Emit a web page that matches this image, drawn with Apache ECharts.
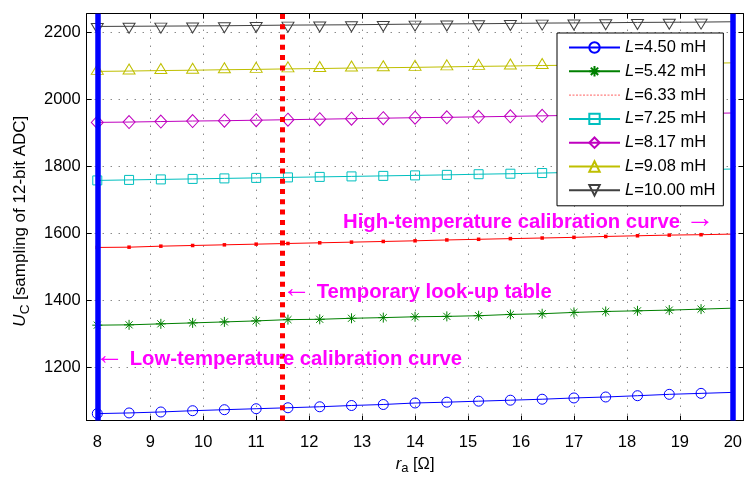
<!DOCTYPE html>
<html>
<head>
<meta charset="utf-8">
<script src="https://cdn.jsdelivr.net/npm/echarts@6/dist/echarts.min.js"></script>
<style>
  html, body { margin: 0; padding: 0; background: #ffffff; }
  #chart { width: 745px; height: 480px; }
</style>
</head>
<body>
<div id="chart"></div>
<script>
// Armature resistance r_a [Ω] at which U_C was sampled
const ra = [8, 8.6, 9.2, 9.8, 10.4, 11.0, 11.6, 12.2, 12.8, 13.4, 14.0, 14.6, 15.2, 15.8, 16.4, 17.0, 17.6, 18.2, 18.8, 19.4, 20];

// Inductance of each curve [mH]
const inductance = ['4.50', '5.42', '6.33', '7.25', '8.17', '9.08', '10.00'];

// U_C samples (12-bit ADC counts), one array per inductance
const uc450 = [1062.8, 1064.8, 1067.7, 1071.5, 1074.5, 1077.4, 1080.3, 1083.2, 1087.0, 1090.0, 1094.5, 1096.9, 1099.9, 1102.8, 1105.7, 1109.5, 1112.4, 1116.2, 1120.3, 1123.2, 1126.1];
const uc542 = [1326.5, 1327.5, 1330.4, 1333.3, 1336.2, 1339.2, 1343.0, 1344.0, 1347.0, 1349.0, 1351.5, 1352.7, 1354.7, 1358.5, 1360.6, 1364.5, 1367.3, 1369.3, 1371.4, 1374.3, 1377.2];
const uc633 = [1558.2, 1559.0, 1562.0, 1564.0, 1566.0, 1568.0, 1570.0, 1572.0, 1574.0, 1576.0, 1578.0, 1580.5, 1582.5, 1584.5, 1586.3, 1588.3, 1591.0, 1593.0, 1595.0, 1596.2, 1598.0];
const uc725 = [1758.0, 1759.5, 1761.0, 1762.5, 1764.0, 1765.5, 1767.0, 1768.5, 1770.0, 1771.5, 1773.0, 1774.5, 1776.5, 1778.0, 1780.0, 1782.0, 1784.0, 1786.0, 1788.0, 1790.0, 1792.0];
const uc817 = [1931.0, 1932.0, 1933.5, 1935.0, 1936.0, 1937.5, 1939.0, 1940.5, 1942.0, 1943.5, 1945.0, 1946.0, 1947.5, 1949.0, 1950.5, 1952.0, 1953.5, 1955.0, 1956.0, 1957.5, 1959.0];
const uc908 = [2083.0, 2084.0, 2085.5, 2086.5, 2088.0, 2089.0, 2090.5, 2091.5, 2093.0, 2094.0, 2095.0, 2096.5, 2098.0, 2099.0, 2100.5, 2101.5, 2103.0, 2104.5, 2106.0, 2107.0, 2108.5];
const uc1000 = [2217.0, 2217.5, 2218.0, 2218.5, 2219.0, 2220.0, 2221.0, 2221.5, 2222.0, 2223.0, 2224.0, 2224.5, 2225.0, 2226.0, 2227.0, 2227.5, 2228.0, 2229.0, 2229.5, 2230.0, 2231.0];

// Axis ticks
const xTicks = [8, 9, 10, 11, 12, 13, 14, 15, 16, 17, 18, 19, 20];
const yTicks = [1200, 1400, 1600, 1800, 2000, 2200];

// Calibration / look-up positions on the r_a axis
const lowTempRa = 8;
const highTempRa = 20;
const lookupRa = 11.5;

const FONT = '"Liberation Sans", Arial, Helvetica, sans-serif';
const asterisk = 'path://M0,-10L0,10M-10,0L10,0M-7.07,-7.07L7.07,7.07M-7.07,7.07L7.07,-7.07';

// Per-curve appearance
const styles = [
  { color: '#0000ff', symbol: 'circle',   size: 10,       offset: [0, 0] },
  { color: '#008000', symbol: asterisk,   size: 10,       offset: [0, 0] },
  { color: '#ff0000', symbol: 'rect',     size: 3.5,      offset: [0, 0], filled: true },
  { color: '#00bfbf', symbol: 'rect',     size: 9,        offset: [0, 0] },
  { color: '#bf00bf', symbol: 'diamond',  size: [12, 13], offset: [0, 0] },
  { color: '#bfbf00', symbol: 'triangle', size: [12, 10], offset: [0, -2] },
  { color: '#404040', symbol: 'triangle', size: [12, 10], offset: [0, 2], rotate: 180 }
];
const values = [uc450, uc542, uc633, uc725, uc817, uc908, uc1000];

function toPoints(vals) {
  // the final point (r_a = 20) only extends the line, without a marker
  return ra.map((x, i) => i === ra.length - 1
    ? { value: [x, vals[i]], symbol: 'none' }
    : [x, vals[i]]);
}

const series = values.map((vals, k) => {
  const s = styles[k];
  return {
    name: 'L=' + inductance[k] + ' mH',
    type: 'line',
    data: toPoints(vals),
    symbol: s.symbol,
    symbolSize: s.size,
    symbolOffset: s.offset,
    symbolRotate: s.rotate || 0,
    symbolKeepAspect: true,
    showAllSymbol: true,
    lineStyle: { color: s.color, width: 1 },
    itemStyle: s.filled
      ? { color: s.color, borderColor: s.color, borderWidth: 0 }
      : { color: 'transparent', borderColor: s.color, borderWidth: 1 },
    emphasis: { disabled: true },
    z: 3
  };
});

// Vertical reference lines
series.push({
  type: 'line',
  data: [],
  silent: true,
  markLine: {
    silent: true,
    symbol: ['none', 'none'],
    label: { show: false },
    animation: false,
    z: 5,
    data: [
      { xAxis: lowTempRa, lineStyle: { color: '#0000ff', width: 5.5, type: 'solid' } },
      { xAxis: highTempRa, lineStyle: { color: '#0000ff', width: 5.5, type: 'solid' } },
      { xAxis: lookupRa, lineStyle: { color: '#ff0000', width: 5, type: [5, 5.3] } }
    ]
  }
});

const legendData = series.slice(0, 7).map((s, k) => {
  const item = { name: s.name };
  if (k === 2) {
    item.lineStyle = { type: [2, 1.5], color: '#ff6060', width: 1 };
    item.itemStyle = { color: 'transparent', borderWidth: 0, opacity: 0 };
  }
  return item;
});

const axisCommon = {
  type: 'value',
  axisLine: { show: true, lineStyle: { color: '#000', width: 1 } },
  axisTick: { show: true, inside: true, length: 5, lineStyle: { color: '#000', width: 1 } }
};
const gridLine = { show: true, lineStyle: { color: '#555', width: 1, type: [1, 7] } };
const plain = v => String(v);

function annotation(text, x, y) {
  return {
    type: 'text', x: x, y: y, z: 10,
    style: {
      text: text,
      fill: '#ff00ff', font: 'bold 20px ' + FONT,
      verticalAlign: 'middle', align: 'left',
      rich: {
        a: { fontWeight: 'normal', fontSize: 29, fontFamily: FONT, fill: '#ff00ff', verticalAlign: 'middle', padding: [0, 0, 6, 0] },
        t: { fontWeight: 'bold', fontSize: 20.3, fontFamily: FONT, fill: '#ff00ff', verticalAlign: 'middle' }
      }
    }
  };
}

const option = {
  animation: false,
  backgroundColor: '#ffffff',
  grid: { left: 86.7, top: 13.7, width: 659.8, height: 415.6, containLabel: false },
  xAxis: [
    Object.assign({}, axisCommon, {
      min: 7.8, max: 20.2, position: 'bottom',
      axisTick: Object.assign({}, axisCommon.axisTick, { customValues: xTicks }),
      axisLabel: { customValues: xTicks, formatter: plain, color: '#000', fontFamily: FONT, fontSize: 16.5, margin: 13 },
      splitLine: gridLine,
      name: '{i|r}{sub|a} [Ω]',
      nameLocation: 'middle',
      nameGap: 28,
      nameTextStyle: {
        color: '#000', fontFamily: FONT, fontSize: 16.5,
        rich: {
          i: { fontStyle: 'italic', fontSize: 16.5, fontFamily: FONT, color: '#000' },
          sub: { fontSize: 13, fontFamily: FONT, color: '#000', verticalAlign: 'bottom', padding: [9, 0, 0, 0] }
        }
      }
    }),
    Object.assign({}, axisCommon, {
      min: 7.8, max: 20.2, position: 'top',
      axisTick: Object.assign({}, axisCommon.axisTick, { customValues: xTicks }),
      axisLabel: { show: false },
      splitLine: { show: false }
    })
  ],
  yAxis: [
    Object.assign({}, axisCommon, {
      min: 1042, max: 2255, position: 'left',
      axisTick: Object.assign({}, axisCommon.axisTick, { customValues: yTicks }),
      axisLabel: { customValues: yTicks, formatter: plain, color: '#000', fontFamily: FONT, fontSize: 16.5, margin: 6 },
      splitLine: gridLine,
      name: '{i|U}{sub|C} [sampling of 12-bit ADC]',
      nameLocation: 'middle',
      nameGap: 54,
      nameTextStyle: {
        color: '#000', fontFamily: FONT, fontSize: 17,
        padding: [0, 8, 0, 0],
        rich: {
          i: { fontStyle: 'italic', fontSize: 17, fontFamily: FONT, color: '#000' },
          sub: { fontSize: 13.5, fontFamily: FONT, color: '#000', verticalAlign: 'bottom', padding: [10, 0, 0, 0] }
        }
      }
    }),
    Object.assign({}, axisCommon, {
      min: 1042, max: 2255, position: 'right',
      axisTick: Object.assign({}, axisCommon.axisTick, { customValues: yTicks }),
      axisLabel: { show: false },
      splitLine: { show: false }
    })
  ],
  legend: {
    orient: 'vertical',
    left: 557,
    top: 33,
    padding: [6, 8, 7, 11],
    itemWidth: 51,
    itemHeight: 13,
    itemGap: 6.8,
    backgroundColor: '#ffffff',
    borderColor: '#000',
    borderWidth: 1,
    borderRadius: 0,
    selectedMode: false,
    data: legendData,
    formatter: name => '{i|L}' + name.slice(1),
    textStyle: {
      color: '#000', fontFamily: FONT, fontSize: 16.5,
      rich: { i: { fontStyle: 'italic', fontFamily: FONT, fontSize: 16.5, color: '#000' } }
    }
  },
  graphic: [
    annotation('{a|←}{t| Low-temperature calibration curve}', 95, 359),
    annotation('{a|←}{t| Temporary look-up table}', 282, 292),
    annotation('{t|High-temperature calibration curve }{a|→}', 343, 222)
  ],
  series: series
};

const chart = echarts.init(document.getElementById('chart'), null, { renderer: 'canvas' });
chart.setOption(option);
</script>
</body>
</html>
